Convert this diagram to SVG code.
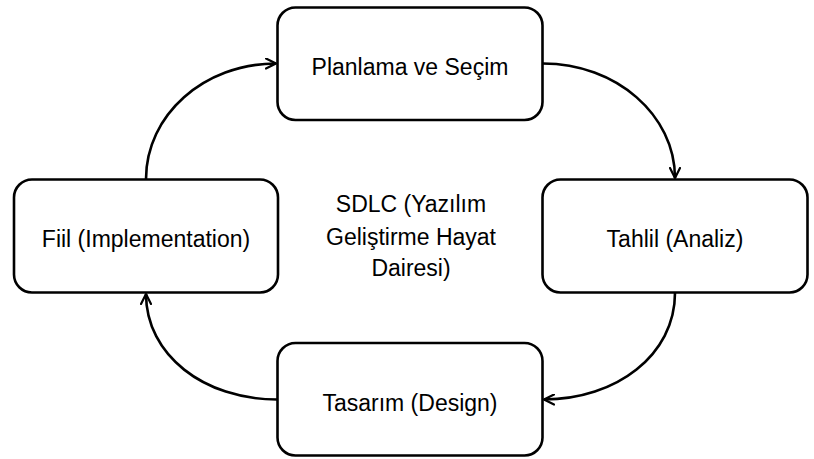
<svg xmlns="http://www.w3.org/2000/svg" width="814" height="459" viewBox="0 0 814 459">
<style>
.box{fill:#fff;stroke:#000;stroke-width:2.6}
.lbl{font-family:"Liberation Sans",Arial,sans-serif;font-size:23px;fill:#000;text-anchor:middle}
.edge{fill:none;stroke:#000;stroke-width:2.6}
</style>
<defs>
<marker id="arr" viewBox="0 0 12 12" refX="11" refY="6" markerWidth="12" markerHeight="12" markerUnits="userSpaceOnUse" orient="auto">
<path d="M1,1 L11,6 L1,11" fill="none" stroke="#000" stroke-width="2.2" stroke-linecap="round" stroke-linejoin="round"/>
</marker>
</defs>
<rect width="814" height="459" fill="#fff"/>
<g id="connectors">
<path class="edge" d="M543,63.5 C616,63.5 675,115 675,178" marker-end="url(#arr)"/>
<path class="edge" d="M675,293 C675,355 616,399.5 544,399.5" marker-end="url(#arr)"/>
<path class="edge" d="M277,399.5 C204,399.5 146,355 146,294" marker-end="url(#arr)"/>
<path class="edge" d="M146,179 C146,115 204,63.5 276,63.5" marker-end="url(#arr)"/>
</g>
<g id="planlama">
<rect class="box" x="277.5" y="7.5" width="265" height="112.5" rx="18"/>
<text class="lbl" x="410" y="75">Planlama ve Seçim</text>
</g>
<g id="tahlil">
<rect class="box" x="542.5" y="179.5" width="265" height="113" rx="18"/>
<text class="lbl" x="675" y="247">Tahlil (Analiz)</text>
</g>
<g id="tasarim">
<rect class="box" x="277.5" y="343" width="265" height="112.5" rx="18"/>
<text class="lbl" x="410" y="411">Tasarım (Design)</text>
</g>
<g id="fiil">
<rect class="box" x="14" y="179.5" width="264" height="113" rx="18"/>
<text class="lbl" x="146" y="247">Fiil (Implementation)</text>
</g>
<g id="sdlc">
<text class="lbl" x="411" y="212">SDLC (Yazılım</text>
<text class="lbl" x="411" y="245">Geliştirme Hayat</text>
<text class="lbl" x="411" y="276">Dairesi)</text>
</g>
</svg>
